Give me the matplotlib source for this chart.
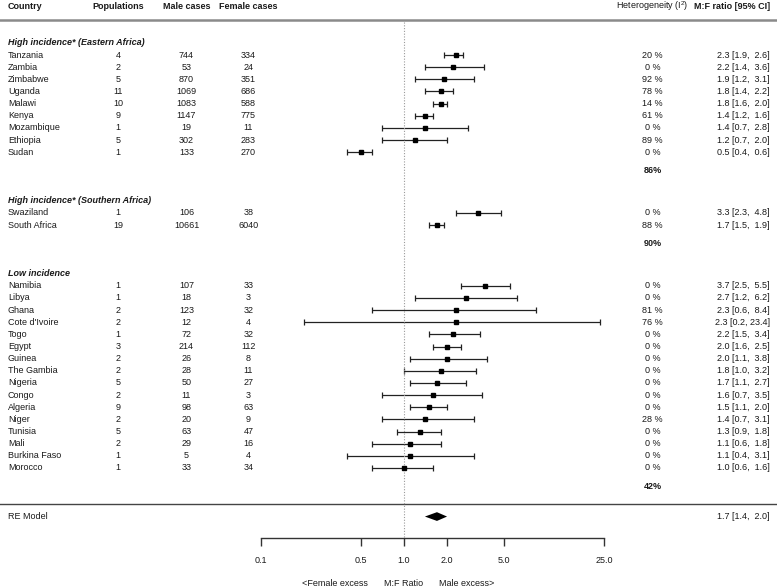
import matplotlib.pyplot as plt
import numpy as np

plt.rcParams['font.family'] = ['Liberation Sans', 'DejaVu Sans']
plt.rcParams['mathtext.fontset'] = 'custom'
plt.rcParams['mathtext.rm'] = 'Liberation Sans'

# data
group_titles = ['High incidence* (Eastern Africa)',
                'High incidence* (Southern Africa)',
                'Low incidence']
group_het = ['86%', '90%', '42%']

east_country = ['Tanzania', 'Zambia', 'Zimbabwe', 'Uganda', 'Malawi', 'Kenya',
                'Mozambique', 'Ethiopia', 'Sudan']
east_pops = [4, 2, 5, 11, 10, 9, 1, 5, 1]
east_male = [744, 53, 870, 1069, 1083, 1147, 19, 302, 133]
east_female = [334, 24, 351, 686, 588, 775, 11, 283, 270]
east_het = [20, 0, 92, 78, 14, 61, 0, 89, 0]
east_est = [2.3, 2.2, 1.9, 1.8, 1.8, 1.4, 1.4, 1.2, 0.5]
east_lo = [1.9, 1.4, 1.2, 1.4, 1.6, 1.2, 0.7, 0.7, 0.4]
east_hi = [2.6, 3.6, 3.1, 2.2, 2.0, 1.6, 2.8, 2.0, 0.6]

south_country = ['Swaziland', 'South Africa']
south_pops = [1, 19]
south_male = [106, 10661]
south_female = [38, 6040]
south_het = [0, 88]
south_est = [3.3, 1.7]
south_lo = [2.3, 1.5]
south_hi = [4.8, 1.9]

low_country = ['Namibia', 'Libya', 'Ghana', "Cote d'Ivoire", 'Togo', 'Egypt',
               'Guinea', 'The Gambia', 'Nigeria', 'Congo', 'Algeria', 'Niger',
               'Tunisia', 'Mali', 'Burkina Faso', 'Morocco']
low_pops = [1, 1, 2, 2, 1, 3, 2, 2, 5, 2, 9, 2, 5, 2, 1, 1]
low_male = [107, 18, 123, 12, 72, 214, 26, 28, 50, 11, 98, 20, 63, 29, 5, 33]
low_female = [33, 3, 32, 4, 32, 112, 8, 11, 27, 3, 63, 9, 47, 16, 4, 34]
low_het = [0, 0, 81, 76, 0, 0, 0, 0, 0, 0, 0, 28, 0, 0, 0, 0]
low_est = [3.7, 2.7, 2.3, 2.3, 2.2, 2.0, 2.0, 1.8, 1.7, 1.6, 1.5, 1.4, 1.3, 1.1, 1.1, 1.0]
low_lo = [2.5, 1.2, 0.6, 0.2, 1.5, 1.6, 1.1, 1.0, 1.1, 0.7, 1.1, 0.7, 0.9, 0.6, 0.4, 0.6]
low_hi = [5.5, 6.2, 8.4, 23.4, 3.4, 2.5, 3.8, 3.2, 2.7, 3.5, 2.0, 3.1, 1.8, 1.8, 3.1, 1.6]

re_est, re_lo, re_hi = 1.7, 1.4, 2.0
ticks = [0.1, 0.5, 1.0, 2.0, 5.0, 25.0]

groups = [
    (east_country, east_pops, east_male, east_female, east_het, east_est, east_lo, east_hi),
    (south_country, south_pops, south_male, south_female, south_het, south_est, south_lo, south_hi),
    (low_country, low_pops, low_male, low_female, low_het, low_est, low_lo, low_hi),
]

W, H = 777, 587
fig = plt.figure(figsize=(W / 100, H / 100), dpi=100)
ax = fig.add_axes([0, 0, 1, 1])
ax.set_xscale('log')
# 0.1 sits at ~261 px, 143 px per decade
ppd = 143.0
ax.set_xlim(0.1 / 10 ** (261 / ppd), 0.1 * 10 ** ((W - 261) / ppd))
ax.set_ylim(43.8, -4.53)
ax.axis('off')

tr = ax.get_yaxis_transform()  # x in axes fraction, y in rows
fs = 6.5
col = '#1a1a1a'

def px(x):
    return x / W

# header
ax.text(px(8), -4.0, 'Country', transform=tr, fontsize=fs, fontweight='bold', va='center', color=col)
ax.text(px(118), -4.0, 'Populations', transform=tr, fontsize=fs, fontweight='bold', va='center', ha='center', color=col)
ax.text(px(186.5), -4.0, 'Male cases', transform=tr, fontsize=fs, fontweight='bold', va='center', ha='center', color=col)
ax.text(px(248.5), -4.0, 'Female cases', transform=tr, fontsize=fs, fontweight='bold', va='center', ha='center', color=col)
ax.text(px(652.5), -4.0, 'Heterogeneity (I$^2$)', transform=tr, fontsize=fs, va='center', ha='center', color=col)
ax.text(px(770), -4.0, 'M:F ratio [95% CI]', transform=tr, fontsize=fs, fontweight='bold', va='center', ha='right', color=col)
ax.axhline(-2.88, color='#8a8a8a', lw=1.8)

row = 0
for (names, pops, male, female, het, est, lo, hi), title, ghet in zip(groups, group_titles, group_het):
    ax.text(px(8), row - 1, title, transform=tr, fontsize=fs, fontweight='bold', fontstyle='italic', va='center', color=col)
    rows = np.arange(row, row + len(names))
    for r, n, p, m, f, h, e, l, u in zip(rows, names, pops, male, female, het, est, lo, hi):
        ax.text(px(8), r, n, transform=tr, fontsize=fs, va='center', color=col)
        ax.text(px(118), r, str(p), transform=tr, fontsize=fs, va='center', ha='center', color=col)
        ax.text(px(186.5), r, str(m), transform=tr, fontsize=fs, va='center', ha='center', color=col)
        ax.text(px(248.5), r, str(f), transform=tr, fontsize=fs, va='center', ha='center', color=col)
        ax.text(px(652.5), r, f'{h} %', transform=tr, fontsize=fs, va='center', ha='center', color=col)
        ax.text(px(770), r, f'{e:.1f} [{l:.1f}, {u:>4.1f}]'.replace('  ', '  '), transform=tr,
                fontsize=fs, va='center', ha='right', color=col)
    est = np.array(est)
    xerr = [est - np.array(lo), np.array(hi) - est]
    ax.errorbar(est, rows, xerr=xerr, fmt='s', color='black', ecolor='#222222', ms=3.2,
                elinewidth=0.9, capsize=1.9, capthick=0.9)
    last = rows[-1]
    ax.text(px(652.5), last + 1.5, ghet, transform=tr, fontsize=fs, fontweight='bold', va='center', ha='center', color=col)
    row = last + 5

# overall model
ax.axhline(37.0, color='#444444', lw=1.0)
ax.text(px(8), 38, 'RE Model', transform=tr, fontsize=fs, va='center', color=col)
ax.text(px(770), 38, f'{re_est:.1f} [{re_lo:.1f}, {re_hi:>4.1f}]', transform=tr, fontsize=fs, va='center', ha='right', color=col)
dh = 0.36
ax.fill([re_lo, re_est, re_hi, re_est], [38, 38 - dh, 38, 38 + dh], color='black', lw=0)

# reference line and axis
ax.vlines(1.0, -2.75, 39.8, colors='#9a9a9a', linestyles=(0, (1, 1.5)), lw=0.8)
ax.plot([ticks[0], ticks[-1]], [39.8, 39.8], color='#333333', lw=1.0)
ax.vlines(ticks, 39.8, 40.4, colors='#333333', lw=1.0)
for t in ticks:
    ax.text(t, 41.6, f'{t:.1f}', fontsize=fs, va='center', ha='center', color=col)

ax.text(1.0, 43.5, 'M:F Ratio', fontsize=fs, va='center', ha='center', color=col)
ax.annotate('<Female excess', xy=(1.0, 43.5), xytext=(-26, 0), textcoords='offset points',
            fontsize=fs, va='center', ha='right', color=col)
ax.annotate('Male excess>', xy=(1.0, 43.5), xytext=(25, 0), textcoords='offset points',
            fontsize=fs, va='center', ha='left', color=col)

fig.savefig('out.png', dpi=100)
